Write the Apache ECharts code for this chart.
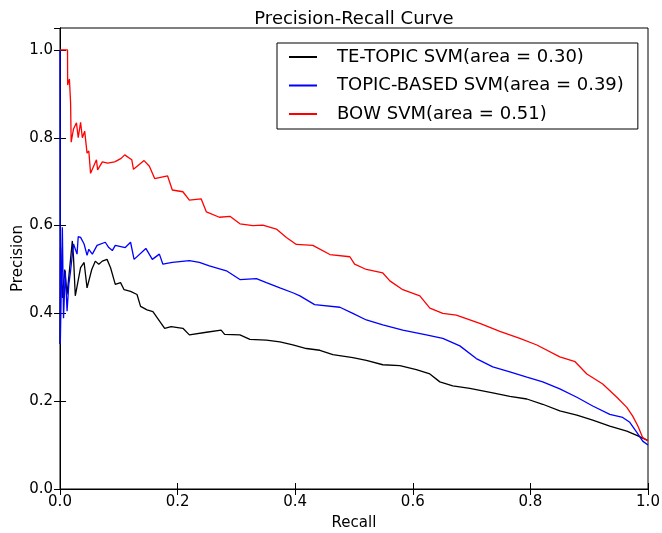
<!DOCTYPE html>
<html>
<head>
<meta charset="utf-8">
<script src="https://cdn.jsdelivr.net/npm/echarts@6/dist/echarts.min.js"></script>
<style>html,body{margin:0;padding:0;background:#fff}#c{width:662px;height:533px}</style>
</head>
<body>
<div id="c"></div>
<script>
var seriesNames = ['TE-TOPIC SVM(area = 0.30)', 'TOPIC-BASED SVM(area = 0.39)', 'BOW SVM(area = 0.51)'];
var seriesColors = ['#000000', '#0000ff', '#ff0000'];

var teRecall = [0, 0.001, 0.004, 0.008, 0.012, 0.016, 0.021, 0.023, 0.026, 0.035, 0.041, 0.046, 0.054, 0.060, 0.066, 0.072, 0.080, 0.086, 0.094, 0.103, 0.109, 0.120, 0.131, 0.137, 0.148, 0.158, 0.178, 0.189, 0.209, 0.220, 0.249, 0.274, 0.280, 0.306, 0.323, 0.351, 0.374, 0.396, 0.419, 0.442, 0.464, 0.498, 0.521, 0.549, 0.578, 0.606, 0.629, 0.646, 0.668, 0.697, 0.736, 0.765, 0.794, 0.821, 0.850, 0.879, 0.906, 0.935, 0.964, 0.981, 1.0];
var tePrecision = [0.33, 0.55, 0.435, 0.50, 0.443, 0.497, 0.565, 0.527, 0.44, 0.504, 0.516, 0.458, 0.50, 0.519, 0.512, 0.519, 0.523, 0.504, 0.466, 0.47, 0.454, 0.45, 0.443, 0.416, 0.408, 0.404, 0.366, 0.37, 0.366, 0.351, 0.357, 0.362, 0.352, 0.351, 0.341, 0.339, 0.335, 0.328, 0.32, 0.316, 0.306, 0.299, 0.293, 0.283, 0.281, 0.272, 0.262, 0.244, 0.235, 0.229, 0.219, 0.211, 0.205, 0.193, 0.178, 0.168, 0.157, 0.143, 0.132, 0.122, 0.11];

var topicRecall = [0, 0.0005, 0.004, 0.006, 0.009, 0.012, 0.015, 0.018, 0.023, 0.029, 0.031, 0.035, 0.041, 0.046, 0.049, 0.055, 0.063, 0.077, 0.083, 0.089, 0.094, 0.111, 0.120, 0.126, 0.146, 0.157, 0.169, 0.175, 0.191, 0.220, 0.237, 0.254, 0.283, 0.306, 0.334, 0.351, 0.374, 0.396, 0.408, 0.433, 0.476, 0.498, 0.521, 0.549, 0.583, 0.623, 0.651, 0.680, 0.708, 0.736, 0.765, 0.794, 0.821, 0.850, 0.879, 0.906, 0.935, 0.957, 0.969, 0.981, 0.991, 1.0];
var topicPrecision = [1.0, 0.33, 0.596, 0.389, 0.497, 0.405, 0.466, 0.497, 0.558, 0.535, 0.575, 0.573, 0.558, 0.532, 0.546, 0.535, 0.555, 0.562, 0.55, 0.543, 0.555, 0.55, 0.562, 0.523, 0.548, 0.523, 0.535, 0.512, 0.516, 0.52, 0.516, 0.508, 0.497, 0.477, 0.479, 0.47, 0.458, 0.447, 0.44, 0.42, 0.414, 0.40, 0.385, 0.374, 0.362, 0.351, 0.343, 0.326, 0.297, 0.278, 0.267, 0.255, 0.244, 0.228, 0.209, 0.189, 0.17, 0.163, 0.152, 0.129, 0.109, 0.10];

var bowRecall = [0, 0.0128, 0.013, 0.016, 0.018, 0.019, 0.023, 0.028, 0.031, 0.035, 0.038, 0.042, 0.046, 0.049, 0.052, 0.062, 0.064, 0.072, 0.081, 0.093, 0.104, 0.110, 0.122, 0.125, 0.143, 0.152, 0.161, 0.183, 0.191, 0.209, 0.220, 0.240, 0.249, 0.271, 0.289, 0.306, 0.328, 0.345, 0.368, 0.385, 0.402, 0.430, 0.459, 0.493, 0.501, 0.521, 0.549, 0.561, 0.583, 0.612, 0.629, 0.651, 0.674, 0.697, 0.714, 0.748, 0.782, 0.811, 0.850, 0.876, 0.896, 0.923, 0.947, 0.964, 0.974, 0.983, 0.991, 1.0];
var bowPrecision = [1.0, 1.0, 0.92, 0.934, 0.88, 0.79, 0.82, 0.834, 0.80, 0.835, 0.80, 0.815, 0.765, 0.77, 0.719, 0.75, 0.727, 0.745, 0.742, 0.745, 0.753, 0.761, 0.75, 0.728, 0.748, 0.735, 0.707, 0.713, 0.681, 0.677, 0.658, 0.661, 0.631, 0.619, 0.621, 0.604, 0.600, 0.601, 0.592, 0.573, 0.557, 0.555, 0.534, 0.529, 0.512, 0.500, 0.492, 0.474, 0.454, 0.440, 0.412, 0.400, 0.396, 0.385, 0.377, 0.359, 0.343, 0.328, 0.301, 0.290, 0.262, 0.239, 0.209, 0.186, 0.166, 0.143, 0.117, 0.11];

var xTicks = [0, 0.2, 0.4, 0.6, 0.8, 1.0];
var yTicks = [0, 0.2, 0.4, 0.6, 0.8, 1.0];

function pairs(xs, ys) { return xs.map(function (x, i) { return [x, ys[i]]; }); }
var allData = [pairs(teRecall, tePrecision), pairs(topicRecall, topicPrecision), pairs(bowRecall, bowPrecision)];

var FONT = 'DejaVu Sans';
var fmt = function (v) { return Math.abs(v - Math.round(v / 0.2) * 0.2) < 1e-6 ? v.toFixed(1) : ''; };

var chart = echarts.init(document.getElementById('c'), null, { renderer: 'canvas' });
var option = {
  animation: false,
  backgroundColor: '#fff',
  textStyle: { fontFamily: FONT },
  title: {
    text: 'Precision-Recall Curve',
    left: 354, top: 10, textAlign: 'center', padding: 0,
    textStyle: { fontFamily: FONT, fontSize: 18, fontWeight: 'normal', color: '#000' }
  },
  grid: { left: 60, right: 14, top: 28, bottom: 44, show: true, borderColor: '#000', borderWidth: 1, backgroundColor: 'transparent', containLabel: false, outerBoundsMode: 'none' },
  legend: {
    orient: 'vertical', left: 277, top: 43,
    padding: [3, 14, 4, 12],
    itemGap: 6.5, itemWidth: 28, itemHeight: 2, icon: 'rect',
    borderColor: '#000', borderWidth: 1, backgroundColor: '#fff',
    textStyle: { fontFamily: FONT, fontSize: 18, color: '#000', lineHeight: 22, padding: [0, 0, 0, 15] },
    data: seriesNames
  },
  xAxis: [{
    type: 'value', min: 0, max: 1, interval: 0.2, position: 'bottom',
    name: 'Recall', nameLocation: 'middle', nameGap: 27, nameMoveOverlap: false,
    nameTextStyle: { fontFamily: FONT, fontSize: 15, color: '#000' },
    axisLine: { show: true, lineStyle: { color: '#000', width: 1 } },
    axisTick: { show: true, inside: true, length: 6, lineStyle: { color: '#000' } },
    axisLabel: { fontFamily: FONT, fontSize: 15, color: '#000', margin: 6, formatter: fmt },
    splitLine: { show: false }
  }, {
    type: 'value', min: 0, max: 1, interval: 0.2, position: 'top',
    axisLine: { show: true, lineStyle: { color: '#000', width: 1 } },
    axisTick: { show: true, inside: true, length: 6, lineStyle: { color: '#000' } },
    axisLabel: { show: false }, splitLine: { show: false }
  }],
  yAxis: [{
    type: 'value', min: 0, max: 1.05, interval: 0.2, position: 'left',
    name: 'Precision', nameLocation: 'middle', nameGap: 34, nameRotate: 90, nameMoveOverlap: false,
    nameTextStyle: { fontFamily: FONT, fontSize: 15, color: '#000' },
    axisLine: { show: true, lineStyle: { color: '#000', width: 1 } },
    axisTick: { show: true, inside: true, length: 6, lineStyle: { color: '#000' } },
    axisLabel: { fontFamily: FONT, fontSize: 15, color: '#000', margin: 7, formatter: fmt, showMaxLabel: false },
    splitLine: { show: false }
  }, {
    type: 'value', min: 0, max: 1.05, interval: 0.2, position: 'right',
    axisLine: { show: true, lineStyle: { color: '#000', width: 1 } },
    axisTick: { show: true, inside: true, length: 6, lineStyle: { color: '#000' } },
    axisLabel: { show: false }, splitLine: { show: false }
  }],
  series: seriesNames.map(function (n, i) {
    return {
      name: n, type: 'line', data: allData[i], xAxisIndex: 0, yAxisIndex: 0,
      showSymbol: false, symbol: 'none', smooth: false,
      lineStyle: { color: seriesColors[i], width: 1.3 },
      itemStyle: { color: seriesColors[i] },
      z: 2 + i
    };
  })
};
chart.setOption(option);
</script>
</body>
</html>
